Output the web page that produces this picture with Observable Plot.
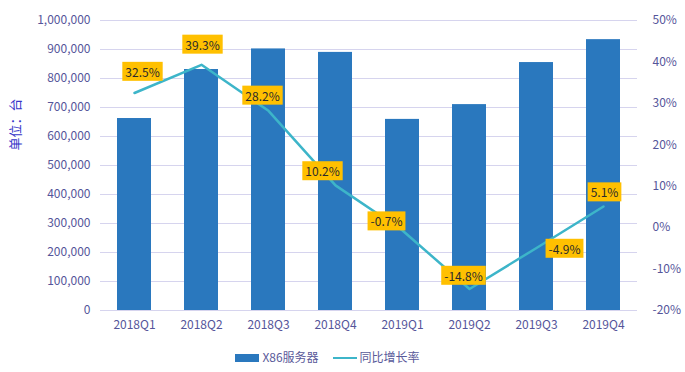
<!DOCTYPE html>
<html><head><meta charset="utf-8">
<script src="https://cdn.jsdelivr.net/npm/d3@7"></script>
<script src="https://cdn.jsdelivr.net/npm/@observablehq/plot@0.6"></script>
<style>
body{margin:0;background:#fff;font-family:"Noto Sans CJK SC","Noto Sans",sans-serif;}
#legend{display:flex;justify-content:center;align-items:center;gap:14px;height:32px;font-size:12px;color:#5a5a9a;margin-left:-30px;}
.sw{display:inline-block;vertical-align:middle;margin-right:3px;}
</style></head>
<body>
<div id="chart"></div>
<div id="legend">
  <span><span class="sw" style="width:24px;height:8px;background:#2A78BE"></span>X86服务器</span>
  <span><span class="sw" style="width:24px;height:2px;background:#3DB5C9"></span>同比增长率</span>
</div>
<script>
const quarters = ["2018Q1","2018Q2","2018Q3","2018Q4","2019Q1","2019Q2","2019Q3","2019Q4"];
const shipments = [662000, 831000, 902000, 890000, 659000, 710000, 855000, 934000];
const growth = [32.5, 39.3, 28.2, 10.2, -0.7, -14.8, -4.9, 5.1];
const leftTicks = [0,100000,200000,300000,400000,500000,600000,700000,800000,900000,1000000];
const rightTicks = [-20,-10,0,10,20,30,40,50];
const labelDx = [8, 1, -6, -13, -16, -6, 28, 1];
const labelDy = [-20, -19, -14, -13, -8, -12, 2, -13];

const pMin = -20, pMax = 50, yMax = 1000000;
const toY = p => (p - pMin) / (pMax - pMin) * yMax;
const rows = quarters.map((q, i) => ({q, v: shipments[i], g: growth[i], gy: toY(growth[i])}));

const axisColor = "#55559a";
const marks = [
  Plot.gridY(leftTicks, {stroke: "#d6d4ee", strokeOpacity: 1, strokeWidth: 1}),
  Plot.axisY(leftTicks, {anchor: "left", tickSize: 0, tickPadding: 10, tickFormat: d3.format(","), fill: axisColor, fontSize: 12, label: null}),
  Plot.axisY(rightTicks.map(toY), {anchor: "right", tickSize: 0, tickPadding: 15, textAnchor: "start", tickFormat: d => Math.round(d / yMax * (pMax - pMin) + pMin) + "%", fill: axisColor, fontSize: 12, label: null}),
  Plot.axisX({tickSize: 0, tickPadding: 10, fill: axisColor, fontSize: 12, label: null}),
  Plot.barY(rows, {x: "q", y: "v", fill: "#2A78BE"}),
  Plot.line(rows, {x: "q", y: "gy", stroke: "#3DB5C9", strokeWidth: 2.5}),
  Plot.text(["单位：台"], {frameAnchor: "left", rotate: -90, dx: -85, dy: -15, fill: "#3535c8", fontSize: 13})
];
rows.forEach((r, i) => {
  marks.push(Plot.text([r], {x: "q", y: "gy", text: d => d.g.toFixed(1) + "%", dx: labelDx[i], dy: labelDy[i], fill: "#2b2b2b", fontSize: 12, className: "lbl"}));
});

const plot = Plot.plot({
  width: 685, height: 340,
  marginLeft: 100, marginRight: 48, marginTop: 20, marginBottom: 30,
  style: {fontFamily: '"Noto Sans CJK SC","Noto Sans",sans-serif', background: "#fff"},
  x: {type: "band", domain: quarters, paddingInner: 0.5, paddingOuter: 0.25},
  y: {domain: [0, yMax]},
  marks
});
document.getElementById("chart").appendChild(plot);
plot.querySelectorAll("g.lbl text").forEach(t => {
  const b = t.getBBox();
  const r = document.createElementNS("http://www.w3.org/2000/svg", "rect");
  r.setAttribute("x", b.x - 3); r.setAttribute("y", b.y - 1);
  r.setAttribute("width", b.width + 6); r.setAttribute("height", b.height + 2);
  r.setAttribute("fill", "#FFC000");
  if (t.getAttribute("transform")) r.setAttribute("transform", t.getAttribute("transform"));
  t.parentNode.insertBefore(r, t);
});
</script>
</body></html>
